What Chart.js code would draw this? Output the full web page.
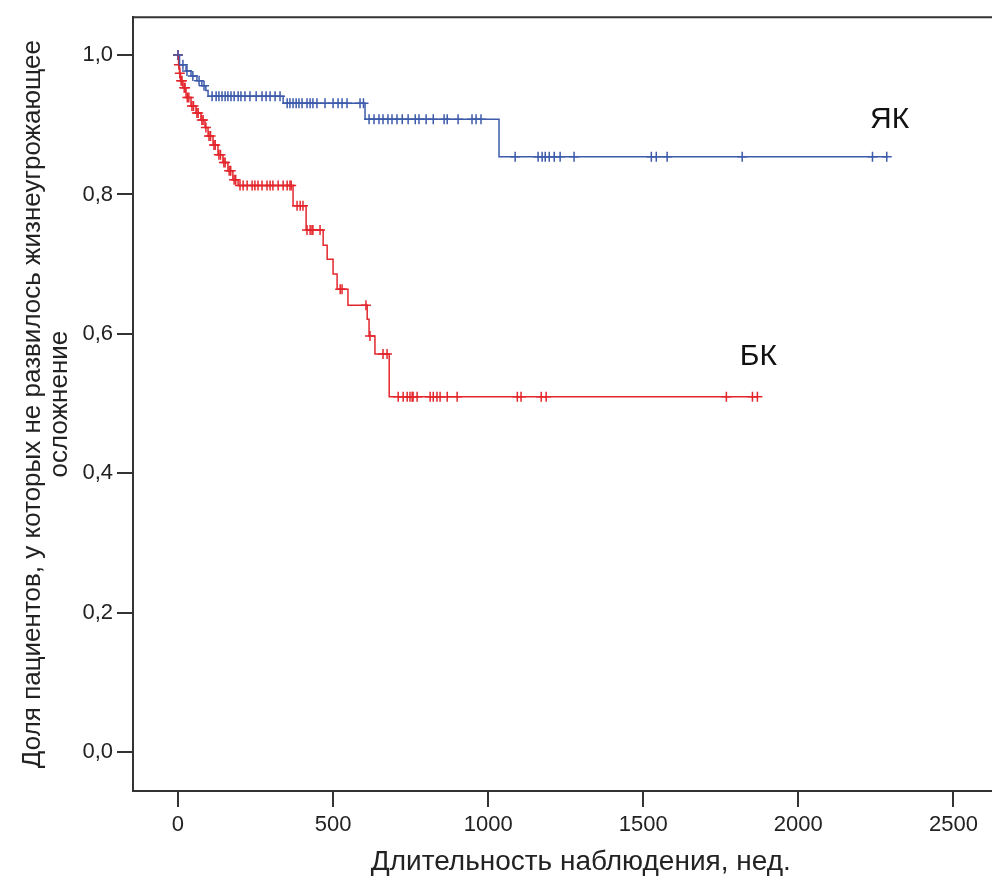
<!DOCTYPE html>
<html>
<head>
<meta charset="utf-8">
<script src="https://cdn.jsdelivr.net/npm/chart.js@4"></script>
<style>
  html, body { margin: 0; padding: 0; background: #fff; overflow: hidden; }
  /* the plot frame runs on past the right edge of the picture */
  #wrap { width: 1035px; height: 882px; }
</style>
</head>
<body>
<div id="wrap"><canvas id="km"></canvas></div>
<script>
// ── Kaplan–Meier data (weeks, proportion) ──
// ЯК — step times and survival after each step
const ykTimes    = [0, 5, 26, 42, 61, 77, 90, 97, 339, 603, 1035, 2285];
const ykSurv     = [1.0, 0.986, 0.977, 0.970, 0.963, 0.956, 0.949, 0.941, 0.931, 0.908, 0.854, 0.854];
const ykCensored = [0, 16, 29, 48, 68, 84,
  110, 123, 132, 142, 152, 161, 171, 181, 194, 203, 216, 232, 252, 271, 284, 297, 313, 329,
  352, 361, 371, 381, 390, 400, 416, 426, 435, 448, 474, 500, 516, 529, 545, 587, 598,
  616, 632, 648, 661, 677, 690, 706, 723, 742, 765, 777, 800, 823, 858, 868, 903, 948, 961, 977,
  1087, 1161, 1174, 1184, 1197, 1213, 1232, 1277, 1526, 1542, 1577, 1819, 2239, 2285];

// БК
const bkTimes    = [0, 2, 5, 8, 16, 26, 42, 58, 74, 87, 97, 113, 129, 145, 161, 177, 194,
  371, 413, 468, 481, 500, 513, 548, 610, 616, 635, 681, 1868];
const bkSurv     = [1.0, 0.986, 0.974, 0.963, 0.953, 0.939, 0.927, 0.917, 0.907, 0.896, 0.884, 0.871,
  0.857, 0.846, 0.834, 0.821, 0.813, 0.784, 0.749, 0.727, 0.707, 0.686, 0.664, 0.641, 0.621,
  0.597, 0.571, 0.510, 0.510];
const bkCensored = [0, 3, 6, 10, 13, 20, 23, 30, 35, 45, 50, 61, 65, 77, 81, 90, 100, 105, 116, 120,
  132, 137, 148, 152, 165, 170, 181, 186,
  200, 210, 223, 239, 248, 258, 271, 287, 297, 306, 323, 339, 352, 361, 365,
  384, 394, 403, 416, 426, 432, 435, 458, 523, 529, 606, 619, 661, 674,
  710, 726, 739, 748, 755, 758, 771, 813, 823, 835, 845, 868, 900,
  1094, 1106, 1171, 1187, 1768, 1852, 1868];

const xTicks = [0, 500, 1000, 1500, 2000, 2500];
const yTicks = [0, 0.2, 0.4, 0.6, 0.8, 1.0];

const groupLabels = [
  { text: 'ЯК', x: 2294, y: 0.907 },
  { text: 'БК', x: 1871, y: 0.567 },
];

const BLUE = '#3d5aab';
const RED  = '#e3262c';
const FONT = '"Liberation Sans", Arial, sans-serif';

// survival level at time t (value of the step function)
function levelAt(times, surv, t) {
  let s = surv[0];
  for (let i = 0; i < times.length; i++) if (times[i] <= t) s = surv[i];
  return s;
}

const toPts   = (ts, ss) => ts.map((t, i) => ({ x: t, y: ss[i] }));
const censPts = (cs, ts, ss) => cs.map(t => ({ x: t, y: levelAt(ts, ss, t) }));

function curve(ts, ss, color) {
  // chart.js 'before' = run flat at the old level, then drop
  return {
    type: 'line', data: toPts(ts, ss), stepped: 'before',
    borderColor: color, borderWidth: 1.5, pointRadius: 0, fill: false,
  };
}
function marks(cs, ts, ss, color) {
  return {
    type: 'scatter', data: censPts(cs, ts, ss),
    pointStyle: 'cross', pointRadius: 5, borderColor: color, borderWidth: 1.5,
    backgroundColor: color,
  };
}

// frame above the plot + group captions
const framePlugin = {
  id: 'frame',
  afterDraw(chart) {
    const { ctx, chartArea: a, scales } = chart;
    ctx.save();
    ctx.strokeStyle = '#333';
    ctx.lineWidth = 2;
    ctx.beginPath();
    ctx.moveTo(a.left, a.top);
    ctx.lineTo(a.right, a.top);
    ctx.lineTo(a.right, a.bottom);
    ctx.stroke();

    ctx.fillStyle = '#111';
    ctx.font = '30px ' + FONT;
    ctx.textAlign = 'center';
    ctx.textBaseline = 'middle';
    groupLabels.forEach(l => {
      ctx.fillText(l.text, scales.x.getPixelForValue(l.x), scales.y.getPixelForValue(l.y));
    });
    ctx.restore();
  },
};

const axisCommon = {
  grid: { drawOnChartArea: false, drawTicks: true, tickLength: 16, color: '#333', lineWidth: 2 },
  border: { display: true, color: '#333', width: 2 },
};

new Chart(document.getElementById('km'), {
  data: {
    datasets: [
      curve(ykTimes, ykSurv, BLUE),
      curve(bkTimes, bkSurv, RED),
      marks(ykCensored, ykTimes, ykSurv, BLUE),
      marks(bkCensored, bkTimes, bkSurv, RED),
    ],
  },
  options: {
    responsive: true,
    maintainAspectRatio: false,
    animation: false,
    layout: { padding: { left: 0, right: 2, top: 14, bottom: 0 } },
    plugins: { legend: { display: false }, tooltip: { enabled: false } },
    scales: {
      x: {
        type: 'linear', min: -145, max: 2742,
        ...axisCommon,
        afterBuildTicks: s => { s.ticks = xTicks.map(v => ({ value: v })); },
        afterFit: s => { s.height = 91; },
        ticks: {
          color: '#222', padding: 5, maxRotation: 0, font: { family: FONT, size: 22 },
          callback: v => String(v),
        },
        title: {
          display: true, text: 'Длительность наблюдения, нед.',
          color: '#222', font: { family: FONT, size: 28 }, padding: { top: 0, bottom: 3 },
        },
      },
      y: {
        type: 'linear', min: -0.0557, max: 1.0543,
        ...axisCommon,
        afterBuildTicks: s => { s.ticks = yTicks.map(v => ({ value: v })); },
        afterFit: s => { s.width = 133; },
        ticks: {
          color: '#222', padding: 4, font: { family: FONT, size: 22 },
          callback: v => v.toFixed(1).replace('.', ','),
        },
        title: {
          display: true,
          text: ['Доля пациентов, у которых не развилось жизнеугрожающее', 'осложнение'],
          color: '#222', font: { family: FONT, size: 26, lineHeight: 1.05 },
          padding: { top: 19, bottom: 0 },
        },
      },
    },
  },
  plugins: [framePlugin],
});
</script>
</body>
</html>
